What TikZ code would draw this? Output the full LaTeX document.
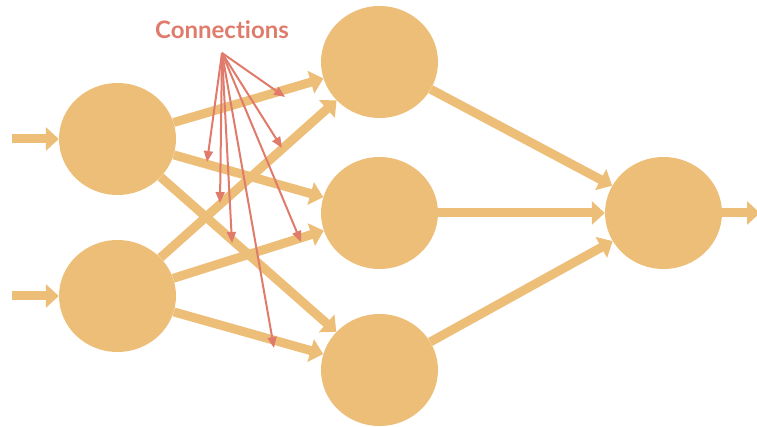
\documentclass[tikz,border=0pt]{standalone}
\usepackage{fontspec}
\setmainfont{Lato}[Ligatures={NoCommon}]
\usetikzlibrary{arrows.meta,shapes.geometric}
\definecolor{neuron}{HTML}{EDBE78}
\definecolor{conn}{HTML}{E07B6B}
\begin{document}
\begin{tikzpicture}[x=1pt,y=-1pt,
  neuronnode/.style={ellipse,fill=neuron,draw=none,minimum width=117pt,minimum height=112pt,inner sep=0pt},
  flow/.style={draw=neuron,line width=9pt,-{Triangle[length=13pt,width=23pt]}},
  pointer/.style={draw=conn,line width=2pt,-{Triangle[length=11pt,width=9pt]}},
  label/.style={text=conn,font=\bfseries\fontsize{24}{28}\selectfont}
]
\useasboundingbox (0,0) rectangle (757,427);
% neurons
\node[neuronnode] (i1) at (117.5,139) {};
\node[neuronnode] (i2) at (117.5,296) {};
\node[neuronnode] (h1) at (379.5,62) {};
\node[neuronnode] (h2) at (379.5,213) {};
\node[neuronnode] (h3) at (379.5,370) {};
\node[neuronnode] (o) at (663.5,213) {};
% free ends
\coordinate (in1) at (12,139);
\coordinate (in2) at (12,296);
\coordinate (out) at (760,213);
% connections
\draw[flow] (in1) -- (i1);
\draw[flow] (in2) -- (i2);
\draw[flow] (i1) -- (h1);
\draw[flow] (i1) -- (h2);
\draw[flow] (i1) -- (h3);
\draw[flow] (i2) -- (h1);
\draw[flow] (i2) -- (h2);
\draw[flow] (i2) -- (h3);
\draw[flow] (h1) -- (o);
\draw[flow] (h2) -- (o);
\draw[flow] (h3) -- (o);
\draw[flow] (o) -- (out);
% label and pointers
\node[label] (lbl) at (222,30) {Connections};
\coordinate (src) at (222,53);
\coordinate (c1) at (285,97);
\coordinate (c2) at (282,148);
\coordinate (c3) at (207,162);
\coordinate (c4) at (220,203);
\coordinate (c5) at (232,243);
\coordinate (c6) at (301,242);
\coordinate (c7) at (274,348);
\foreach \c in {c1,c2,c3,c4,c5,c6,c7} \draw[pointer] (src) -- (\c);
\end{tikzpicture}
\end{document}
